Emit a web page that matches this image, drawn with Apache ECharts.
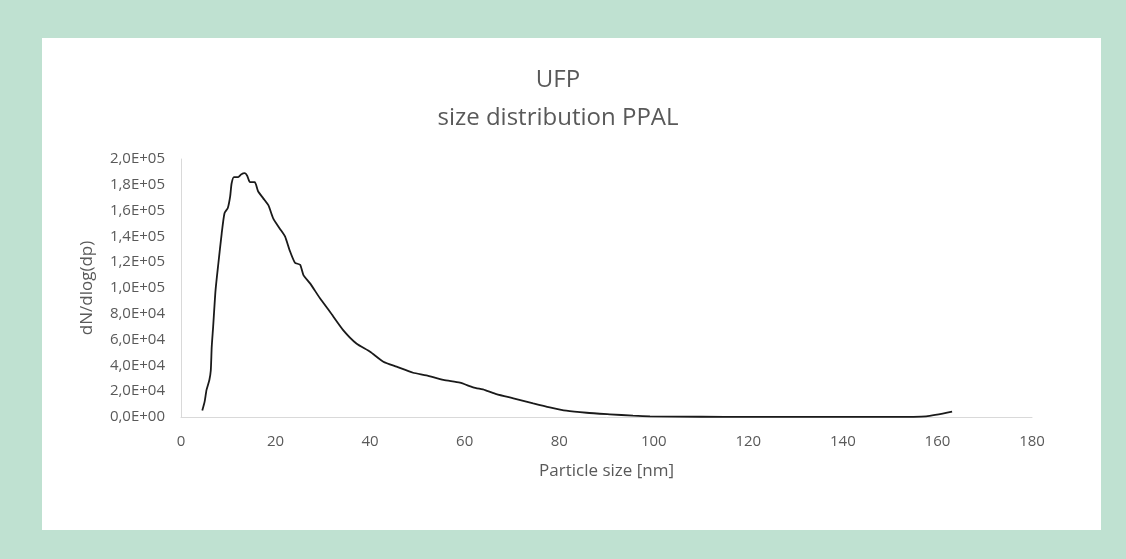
<!DOCTYPE html>
<html>
<head>
<meta charset="utf-8">
<script src="https://cdn.jsdelivr.net/npm/echarts@6/dist/echarts.min.js"></script>
<style>
html,body{margin:0;padding:0;width:1126px;height:559px;background:#bfe1d1;overflow:hidden;}
#c{position:absolute;left:42px;top:38px;width:1059px;height:492px;background:#ffffff;}
</style>
</head>
<body>
<div id="c"></div>
<script>
var titleLines = ['UFP', 'size distribution PPAL'];
var xAxisName = 'Particle size [nm]';
var yAxisName = 'dN/dlog(dp)';
var particleSize = [4.5, 5.0, 5.4, 6.0, 6.3, 6.5, 6.8, 7.3, 7.9, 8.6, 9.2, 9.9, 10.4, 10.7, 11.2, 12.1, 12.7, 13.5, 14.0, 14.6, 15.6, 16.3, 17.4, 18.5, 19.5, 20.9, 22.0, 23.0, 24.1, 25.2, 25.9, 27.3, 29.4, 31.5, 34.3, 37.1, 40.0, 42.8, 45.6, 49.1, 51.9, 55.5, 59.0, 61.8, 64.3, 66.7, 70.3, 74.5, 78.0, 81.5, 85.8, 90.7, 95.6, 99.2, 110, 120, 130, 140, 150, 157.6, 163.1];
var dNdlogdp = [5000, 11900, 21000, 28700, 36000, 54500, 70000, 98000, 119000, 142000, 158000, 162000, 171000, 181000, 186000, 186000, 188000, 189000, 187000, 182000, 182000, 175000, 169500, 164000, 154000, 146000, 140000, 129000, 119600, 118000, 110000, 103600, 92000, 81600, 67400, 57000, 50600, 42900, 39000, 34300, 32300, 28700, 26600, 23000, 20900, 17800, 14500, 10600, 7500, 4900, 3300, 2100, 1000, 500, 200, 100, 100, 100, 100, 500, 4100];

var points = particleSize.map(function (x, i) { return [x, dNdlogdp[i]]; });

function sciLabel(v) {
  if (v === 0) return '0,0E+00';
  var e = Math.floor(Math.log10(v) + 1e-9);
  var m = v / Math.pow(10, e);
  return m.toFixed(1).replace('.', ',') + 'E+' + (e < 10 ? '0' + e : e);
}

var font = '"Open Sans", sans-serif';
var chart = echarts.init(document.getElementById('c'));
chart.setOption({
  animation: false,
  title: {
    text: titleLines.join('\n'),
    left: 511,
    top: 18,
    textAlign: 'center',
    textStyle: { color: '#595959', fontSize: 24, fontWeight: 'normal', fontFamily: font, lineHeight: 38 }
  },
  grid: { left: 139, right: 69, top: 121, bottom: 113 },
  xAxis: {
    type: 'value', min: 0, max: 180, interval: 20,
    name: xAxisName, nameLocation: 'middle', nameGap: 46,
    nameTextStyle: { color: '#595959', fontSize: 17, fontFamily: font },
    axisLine: { show: true, lineStyle: { color: '#d9d9d9', width: 1 } },
    axisTick: { show: false },
    splitLine: { show: false },
    axisLabel: { color: '#595959', fontSize: 15, fontFamily: font, margin: 17 }
  },
  yAxis: {
    type: 'value', min: 0, max: 200000, interval: 20000,
    name: yAxisName, nameLocation: 'middle', nameGap: 85, nameRotate: 90,
    nameTextStyle: { color: '#595959', fontSize: 17, fontFamily: font },
    axisLine: { show: true, lineStyle: { color: '#d9d9d9', width: 1 } },
    axisTick: { show: false },
    splitLine: { show: false },
    axisLabel: { color: '#595959', fontSize: 15, fontFamily: font, margin: 16, formatter: sciLabel }
  },
  series: [{
    type: 'line',
    data: points,
    showSymbol: false,
    smooth: 0.2,
    lineStyle: { color: '#1a1a1a', width: 1.8 }
  }]
});
</script>
</body>
</html>
